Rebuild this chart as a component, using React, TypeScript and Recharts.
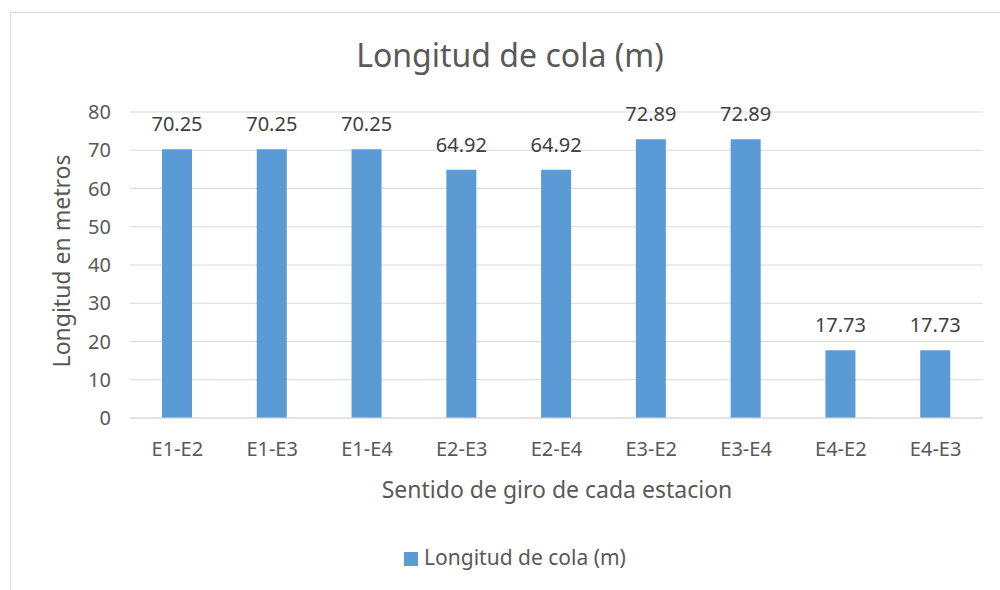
import React from "react";
import { BarChart, Bar, XAxis, YAxis, CartesianGrid, LabelList, Legend, Customized } from "recharts";

const categories = ["E1-E2", "E1-E3", "E1-E4", "E2-E3", "E2-E4", "E3-E2", "E3-E4", "E4-E2", "E4-E3"];
const values = [70.25, 70.25, 70.25, 64.92, 64.92, 72.89, 72.89, 17.73, 17.73];
const yTicks = [0, 10, 20, 30, 40, 50, 60, 70, 80];
const seriesName = "Longitud de cola (m)";
const titleText = "Longitud de cola (m)";
const xTitle = "Sentido de giro de cada estacion";
const yTitle = "Longitud en metros";

const data = categories.map((c, i) => ({ name: c, value: values[i] }));

const FONT = "'Noto Sans', 'Open Sans', sans-serif";

const Titles = () => (
  <g fontFamily={FONT}>
    <text x={510} y={67} textAnchor="middle" fontSize={32} fill="#595959">{titleText}</text>
    <text x={557} y={498} textAnchor="middle" fontSize={23} fill="#595959">{xTitle}</text>
    <text x={70} y={261} textAnchor="middle" fontSize={23} fill="#595959" transform="rotate(-90 70 261)">{yTitle}</text>
  </g>
);

export default function App() {
  return (
    <div style={{ position: "absolute", left: 0, top: 0, width: 1000, height: 590, background: "#fff", overflow: "hidden" }}>
      <div style={{ position: "absolute", left: 10, top: 12, width: 1000, height: 600, border: "1px solid #d9d9d9", boxSizing: "border-box" }} />
      <div style={{ position: "absolute", left: 0, top: 0 }}>
        <BarChart width={1000} height={590} data={data} margin={{ top: 112, right: 17, bottom: 142, left: 70 }} style={{ fontFamily: FONT }}>
          <CartesianGrid vertical={false} stroke="#d9d9d9" strokeWidth={1} />
          <XAxis
            dataKey="name"
            height={30}
            tickLine={false}
            axisLine={{ stroke: "#d9d9d9" }}
            tickSize={0}
            tickMargin={24}
            tick={{ fill: "#595959", fontSize: 20, fontFamily: FONT }}
            interval={0}
          />
          <YAxis
            width={60}
            domain={[0, 80]}
            ticks={yTicks}
            axisLine={false}
            tickLine={false}
            tickSize={0}
            tickMargin={19}
            tick={{ fill: "#595959", fontSize: 20, fontFamily: FONT }}
          />
          <Bar dataKey="value" name={seriesName} fill="#5B9BD5" barSize={30} isAnimationActive={false}>
            <LabelList dataKey="value" position="top" offset={18} fill="#404040" fontSize={20} fontFamily={FONT} formatter={(v: number) => v.toFixed(2)} />
          </Bar>
          <Legend
            verticalAlign="bottom"
            align="center"
            iconType="square"
            iconSize={14}
            wrapperStyle={{ position: "absolute", top: 543, left: 20, width: 1000, height: 0, overflow: "visible", fontSize: 21, fontFamily: FONT }}
            formatter={(v: string) => <span style={{ color: "#595959", marginLeft: 2 }}>{v}</span>}
          />
          <Customized component={Titles} />
        </BarChart>
      </div>
    </div>
  );
}
